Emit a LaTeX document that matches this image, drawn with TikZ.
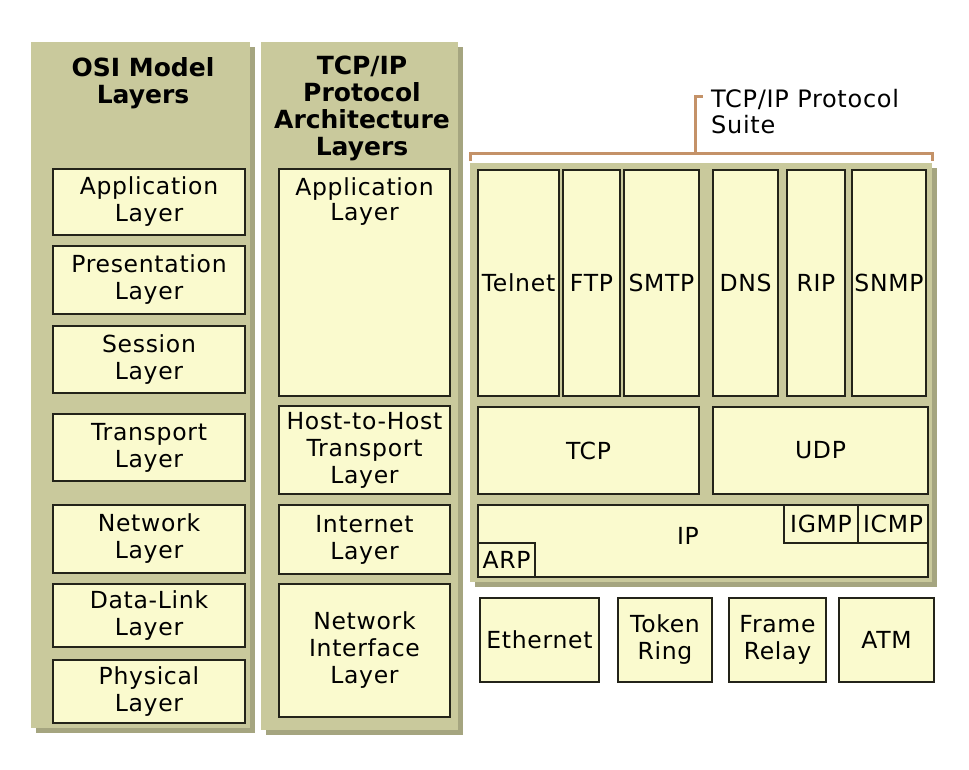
\documentclass[tikz,border=0pt]{standalone}
\usepackage{fontspec}
\setmainfont{DejaVu Sans}
\definecolor{panelc}{RGB}{201,201,156}
\definecolor{shadowc}{RGB}{165,165,128}
\definecolor{boxfill}{RGB}{250,250,206}
\definecolor{boxline}{RGB}{35,35,25}
\definecolor{brk}{RGB}{196,146,104}
\newfontfamily\boxfont[LetterSpace=3]{DejaVu Sans}
\newfontfamily\ttlfont{DejaVu Sans Bold}
\tikzset{
  panel/.style={fill=panelc},
  pshadow/.style={fill=shadowc},
  lbox/.style={draw=boxline, line width=2pt, fill=boxfill, inner sep=0pt, align=center,
    font=\boxfont\fontsize{23.5}{27}\selectfont},
  ttl/.style={inner sep=0pt, align=center, font=\ttlfont\fontsize{25}{27}\selectfont},
  brack/.style={draw=brk, line width=3pt},
  lbl/.style={inner sep=0pt, align=left, font=\boxfont\fontsize{24}{26}\selectfont}
}
\newcommand\bx[6]{\node[lbox, anchor=north west, minimum width={(#4-#2)*1pt}, minimum height={(#5-#3)*1pt}] (#1) at (#2,#3) {#6};}
\newcommand\pnl[4]{\fill[pshadow] (#1+5,#2+5) rectangle (#3+5,#4+5); \fill[panel] (#1,#2) rectangle (#3,#4);}
\begin{document}
\begin{tikzpicture}[x=1pt,y=-1pt]
\useasboundingbox[fill=white] (0,0) rectangle (969,769);
% panels
\pnl{31}{42}{250}{728}
\pnl{261}{42}{458}{730}
\pnl{470}{163}{932}{582}
% titles
\node[ttl, anchor=north] (osit) at (143,57) {OSI Model\\Layers};
\node[ttl, anchor=north] (tcpt) at (362,56) {TCP/IP\\Protocol\\Architecture\\Layers};
% OSI boxes
\bx{oapp}{52}{168}{244}{234}{Application\\Layer}
\bx{opre}{52}{245}{244}{313}{Presentation\\Layer}
\bx{oses}{52}{325}{244}{392}{Session\\Layer}
\bx{otra}{52}{413}{244}{480}{Transport\\Layer}
\bx{onet}{52}{504}{244}{572}{Network\\Layer}
\bx{odl}{52}{583}{244}{646}{Data-Link\\Layer}
\bx{ophy}{52}{659}{244}{722}{Physical\\Layer}
% TCP/IP arch boxes
\node[lbox, anchor=north west, minimum width=171pt, minimum height=227pt] (tapp) at (278,168) {};
\node[inner sep=0pt, align=center, font=\boxfont\fontsize{23.5}{25}\selectfont, anchor=north] (tappl) at (tapp.north) [yshift=-9pt] {Application\\Layer};
\bx{thth}{278}{405}{449}{493}{Host-to-Host\\Transport\\Layer}
\bx{tint}{278}{504}{449}{573}{Internet\\Layer}
\bx{tnil}{278}{583}{449}{716}{Network\\Interface\\Layer}
% suite
\bx{telnet}{477}{169}{558}{395}{Telnet}
\bx{ftp}{562}{169}{619}{395}{FTP}
\bx{smtp}{623}{169}{698}{395}{SMTP}
\bx{dns}{712}{169}{777}{395}{DNS}
\bx{rip}{786}{169}{844}{395}{RIP}
\bx{snmp}{851}{169}{925}{395}{SNMP}
\bx{tcp}{477}{406}{698}{493}{TCP}
\bx{udp}{712}{406}{927}{493}{UDP}
\node[lbox, anchor=north west, minimum width=450pt, minimum height=72pt] (ip) at (477,504) {};
\node[inner sep=0pt, font=\boxfont\fontsize{23.5}{27}\selectfont] (ipl) at (688,536) {IP};
\bx{arp}{477}{542}{534}{576}{ARP}
\bx{igmp}{783}{504}{857}{542}{IGMP}
\bx{icmp}{857}{504}{927}{542}{ICMP}
% network interfaces
\bx{eth}{479}{597}{598}{681}{Ethernet}
\bx{tok}{617}{597}{711}{681}{Token\\Ring}
\bx{frm}{728}{597}{825}{681}{Frame\\Relay}
\bx{atm}{838}{597}{933}{681}{ATM}
% bracket and label
\node[lbl, anchor=north west] (suite) at (711,89) {TCP/IP Protocol\\Suite};
\coordinate (bt) at (703,96);
\draw[brack] (470,161) -- (470,153) -- (932,153) -- (932,161);
\draw[brack] (695,153) -- (695,96) -- (bt);
\end{tikzpicture}
\end{document}
